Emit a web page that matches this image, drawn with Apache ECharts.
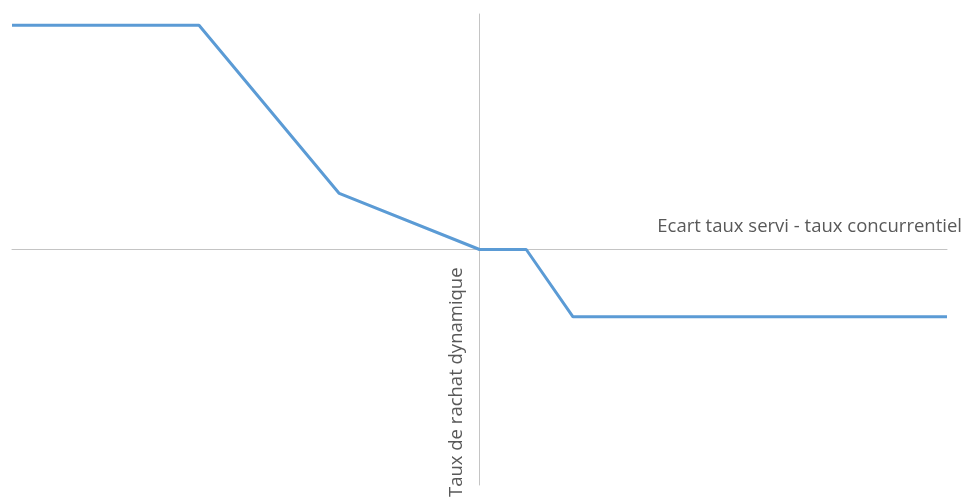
<!DOCTYPE html>
<html>
<head>
<meta charset="utf-8">
<script src="https://cdn.jsdelivr.net/npm/echarts@6/dist/echarts.min.js"></script>
<style>
  html, body { margin: 0; padding: 0; background: #fff; }
  #chart { width: 965px; height: 500px; }
</style>
</head>
<body>
<div id="chart"></div>
<script>
// Spread between served rate and competitor rate (x) vs. dynamic surrender rate (y)
const ecart = [-10, -6, -3, 0, 1, 2, 10];
const rachat = [4, 4, 1, 0, 0, -1.2, -1.2];
const xTitle = 'Ecart taux servi - taux concurrentiel';
const yTitle = 'Taux de rachat dynamique';

const chart = echarts.init(document.getElementById('chart'));
const axisGray = '#c4c4c4';
const titleFont = '18.5px "Open Sans"';

chart.setOption({
  animation: false,
  grid: { left: 12, right: 18, top: 14, bottom: 15 },
  xAxis: {
    type: 'value', min: -10, max: 10,
    axisLine: { onZero: true, lineStyle: { color: axisGray, width: 1 } },
    axisTick: { show: false }, axisLabel: { show: false }, splitLine: { show: false }
  },
  yAxis: {
    type: 'value', min: -4.2, max: 4.2,
    axisLine: { onZero: true, lineStyle: { color: axisGray, width: 1 } },
    axisTick: { show: false }, axisLabel: { show: false }, splitLine: { show: false }
  },
  graphic: [
    {
      type: 'text', x: 962, y: 227,
      style: { text: xTitle, fill: '#595959', font: titleFont, align: 'right', verticalAlign: 'middle' }
    },
    {
      type: 'text', x: 457, y: 497, rotation: Math.PI / 2,
      style: { text: yTitle, fill: '#595959', font: titleFont, align: 'left', verticalAlign: 'middle' }
    }
  ],
  series: [{
    type: 'line',
    data: ecart.map((x, i) => [x, rachat[i]]),
    showSymbol: false,
    lineStyle: { color: '#5B9BD5', width: 3 },
    itemStyle: { color: '#5B9BD5' }
  }]
});
</script>
</body>
</html>
